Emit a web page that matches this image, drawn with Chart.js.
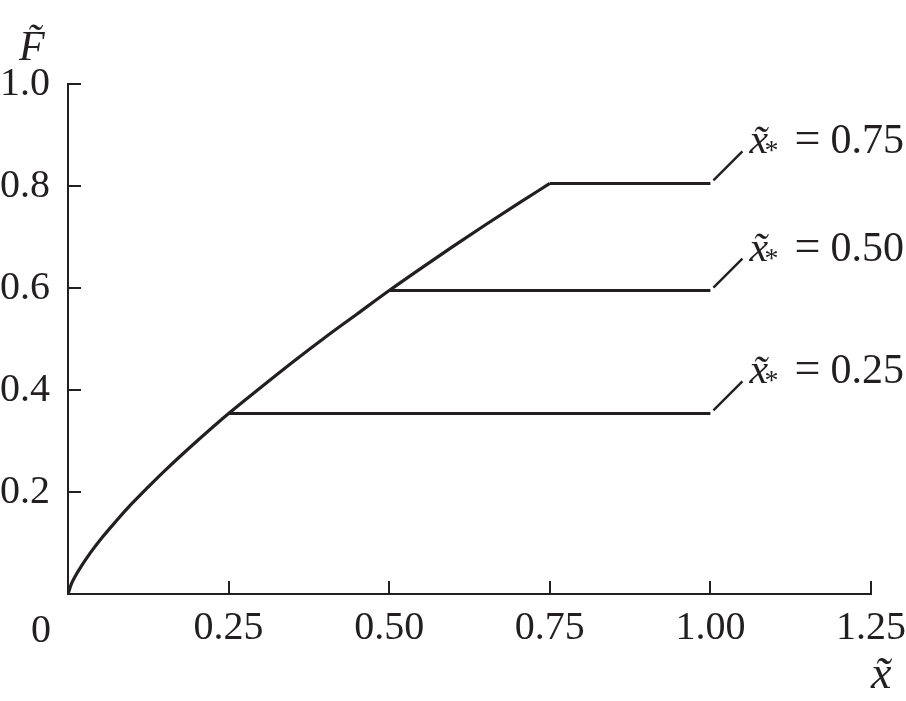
<!DOCTYPE html>
<html><head><meta charset="utf-8">
<script src="https://cdn.jsdelivr.net/npm/chart.js@4.4.1/dist/chart.umd.min.js"></script>
<style>html,body{margin:0;padding:0;background:#fff;}#wrap{width:906px;height:701px;}</style>
</head><body><div id="wrap"><canvas id="c" width="906" height="701"></canvas></div>
<script>
// Data
const curveX = [0, 0.005, 0.01, 0.02, 0.035, 0.05, 0.075, 0.1, 0.125, 0.15, 0.2, 0.25, 0.3, 0.35, 0.4, 0.45, 0.5, 0.55, 0.6, 0.65, 0.7, 0.75];
const curveF = [0, 0.019, 0.032, 0.053, 0.081, 0.106, 0.143, 0.178, 0.210, 0.241, 0.299, 0.354, 0.405, 0.455, 0.503, 0.549, 0.595, 0.639, 0.682, 0.724, 0.765, 0.805];
const plateauStarts = [0.25, 0.50, 0.75];
const plateauEnd = 1.00;
const plateauLevels = [0.354, 0.595, 0.805];
const plateauLabels = ['0.25', '0.50', '0.75'];
const xTicks = [0, 0.25, 0.50, 0.75, 1.00, 1.25];
const xTickLabels = ['0', '0.25', '0.50', '0.75', '1.00', '1.25'];
const yTicks = [0, 0.2, 0.4, 0.6, 0.8, 1.0];
const yTickLabels = ['', '0.2', '0.4', '0.6', '0.8', '1.0'];
const xTitle = 'x\u0303';
const yTitle = 'F\u0303';

const INK = '#231f20';
const SERIF = '"Liberation Serif", "Times New Roman", serif';

const datasets = [{
  data: curveX.map((x, i) => ({x: x, y: curveF[i]})),
  borderColor: INK, borderWidth: 3.2, pointRadius: 0, fill: false,
  cubicInterpolationMode: 'monotone'
}];
plateauStarts.forEach((s, i) => {
  datasets.push({
    data: [{x: s, y: plateauLevels[i]}, {x: plateauEnd, y: plateauLevels[i]}],
    borderColor: INK, borderWidth: 3, pointRadius: 0, fill: false
  });
});

const decor = {
  id: 'decor',
  afterDraw(chart) {
    const ctx = chart.ctx, xs = chart.scales.x, ys = chart.scales.y, ca = chart.chartArea;
    ctx.save();
    ctx.strokeStyle = INK; ctx.fillStyle = INK; ctx.lineWidth = 2;
    // inward tick marks
    xTicks.forEach(v => {
      if (v === 0) return;
      const px = Math.round(xs.getPixelForValue(v));
      ctx.beginPath(); ctx.moveTo(px, ca.bottom); ctx.lineTo(px, ca.bottom - 13); ctx.stroke();
    });
    yTicks.forEach(v => {
      if (v === 0) return;
      const py = Math.round(ys.getPixelForValue(v));
      ctx.beginPath(); ctx.moveTo(ca.left, py); ctx.lineTo(ca.left + 13, py); ctx.stroke();
    });
    // origin label
    ctx.font = '40px ' + SERIF;
    ctx.textAlign = 'center'; ctx.textBaseline = 'alphabetic';
    ctx.fillText(xTickLabels[0], xs.getPixelForValue(0) - 27, ys.getPixelForValue(0) + 48);
    // axis titles
    ctx.font = 'italic 42px ' + SERIF;
    ctx.textAlign = 'left';
    ctx.fillText(yTitle, 19, 60);
    ctx.font = 'italic 46px ' + SERIF;
    ctx.fillText(xTitle, 871, 688);
    // annotations
    plateauLevels.forEach((lv, i) => {
      const xe = xs.getPixelForValue(plateauEnd), ye = ys.getPixelForValue(lv);
      ctx.lineWidth = 2.4;
      ctx.beginPath(); ctx.moveTo(xe + 3, ye - 3); ctx.lineTo(xe + 32, ye - 32); ctx.stroke();
      const base = ye - 30;
      ctx.textAlign = 'left';
      ctx.font = 'italic 42px ' + SERIF;
      ctx.fillText('x\u0303', xe + 39, base);
      ctx.font = '28px ' + SERIF;
      ctx.fillText('*', xe + 54, base + 6);
      ctx.font = '46px ' + SERIF;
      ctx.fillText('=', xe + 84, base);
      ctx.font = '42px ' + SERIF;
      ctx.fillText(plateauLabels[i], xe + 120, base);
    });
    ctx.restore();
  }
};

new Chart(document.getElementById('c'), {
  type: 'line',
  data: {datasets: datasets},
  options: {
    responsive: false, devicePixelRatio: 1, animation: false,
    plugins: {legend: {display: false}, tooltip: {enabled: false}},
    layout: {autoPadding: false, padding: {left: 0, right: 35, top: 84, bottom: 0}},
    scales: {
      x: {
        type: 'linear', min: 0, max: 1.25,
        afterBuildTicks: s => { s.ticks = xTicks.map(v => ({value: v})); },
        afterFit: s => { s.height = 107; s.paddingLeft = 0; s.paddingRight = 0; },
        ticks: {
          callback: (v, i) => (i === 0 ? '' : xTickLabels[i]),
          font: {family: SERIF, size: 40}, color: INK, padding: 10,
          maxRotation: 0, autoSkip: false
        },
        grid: {display: false, drawTicks: false},
        border: {display: true, color: INK, width: 2}
      },
      y: {
        type: 'linear', min: 0, max: 1,
        afterBuildTicks: s => { s.ticks = yTicks.map(v => ({value: v})); },
        afterFit: s => { s.width = 68; s.paddingTop = 0; s.paddingBottom = 0; },
        ticks: {
          callback: (v, i) => yTickLabels[i],
          font: {family: SERIF, size: 40}, color: INK, padding: 18,
          autoSkip: false
        },
        grid: {display: false, drawTicks: false},
        border: {display: true, color: INK, width: 2}
      }
    }
  },
  plugins: [decor]
});
</script></body></html>
